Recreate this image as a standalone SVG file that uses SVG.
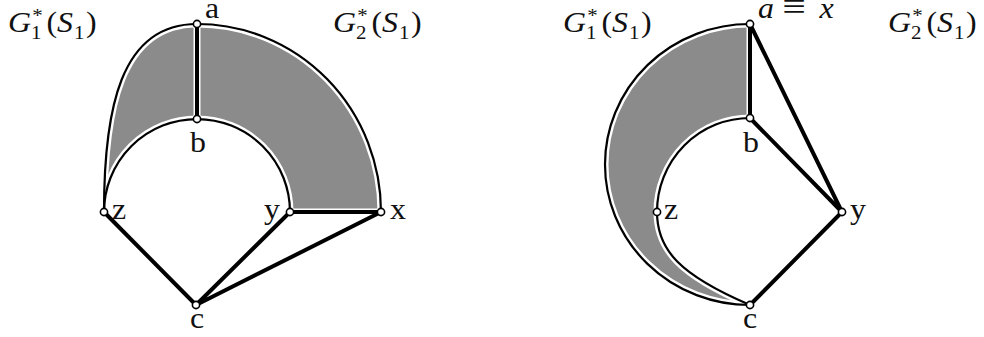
<svg xmlns="http://www.w3.org/2000/svg" width="984" height="337" viewBox="0 0 984 337">
<style>
.shade{fill:#8b8b8b;stroke:none}
.halo{fill:none;stroke:#fff;stroke-width:7;stroke-linecap:round}
.thin{fill:none;stroke:#000;stroke-width:2.2}
.thick{fill:none;stroke:#000;stroke-width:4;stroke-linecap:round}
.node{fill:#fff;stroke:#000;stroke-width:1.6}
text{font-family:"Liberation Serif","Times New Roman",serif;font-size:29px;fill:#111}
.it{font-style:italic}
.sm{font-size:19px}
.eq{font-size:38px}
</style>
<rect width="984" height="337" fill="#fff"/>
<g id="regions">
<path class="shade" d="M104,212 C104,110 120,24 197,24 A184,188 0 0 1 381,212 L290,212 A93,93 0 0 0 104,212 Z"/>
<path class="shade" d="M750,24 A145,140.5 0 0 0 750,305 C680,275 657,250 657,212 A93,94 0 0 1 750,118 Z"/>
</g>
<g id="connectors">
<path class="halo" d="M104,212 C104,110 120,24 197,24 A184,188 0 0 1 381,212"/>
<path class="halo" d="M104,212 A93,93 0 0 1 290,212"/>
<path class="halo" d="M197,24 L197,119 M290,212 L381,212"/>
<path class="thin" d="M104,212 C104,110 120,24 197,24 A184,188 0 0 1 381,212"/>
<path class="thin" d="M104,212 A93,93 0 0 1 290,212"/>
<path class="thick" d="M197,24 L197,119"/>
<path class="thick" d="M290,212 L381,212"/>
<path class="thick" d="M104,212 L196,305 M290,212 L196,305 M381,212 L196,305"/>
<path class="halo" d="M750,24 A145,140.5 0 0 0 750,305"/>
<path class="halo" d="M750,305 C680,275 657,250 657,212 A93,94 0 0 1 750,118 L750,24"/>
<path class="thin" d="M750,24 A145,140.5 0 0 0 750,305"/>
<path class="thin" d="M750,305 C680,275 657,250 657,212 A93,94 0 0 1 750,118"/>
<path class="thick" d="M750,24 L750,118"/>
<path class="thick" d="M750,24 L842,212 M750,118 L842,212 M842,212 L750,305"/>
</g>
<g id="left-a"><circle class="node" cx="197" cy="24" r="3.6"/><text transform="translate(205,18) scale(1.1,1)">a</text></g>
<g id="left-b"><circle class="node" cx="197" cy="119" r="3.6"/><text transform="translate(190,152) scale(1.1,1)">b</text></g>
<g id="left-z"><circle class="node" cx="104" cy="212" r="3.6"/><text transform="translate(112,219) scale(1.1,1)">z</text></g>
<g id="left-y"><circle class="node" cx="290" cy="212" r="3.6"/><text transform="translate(264,219) scale(1.1,1)">y</text></g>
<g id="left-x"><circle class="node" cx="381" cy="212" r="3.6"/><text transform="translate(390,219) scale(1.1,1)">x</text></g>
<g id="left-c"><circle class="node" cx="196" cy="305" r="3.6"/><text transform="translate(190,328) scale(1.1,1)">c</text></g>
<g id="right-a"><circle class="node" cx="750" cy="24" r="3.6"/><text transform="translate(758,18) scale(1.1,1)"><tspan class="it">a</tspan><tspan class="eq" x="22" y="1">≡</tspan><tspan class="it" x="56" y="0">x</tspan></text></g>
<g id="right-b"><circle class="node" cx="750" cy="118" r="3.6"/><text transform="translate(743,152) scale(1.1,1)">b</text></g>
<g id="right-z"><circle class="node" cx="657" cy="212" r="3.6"/><text transform="translate(664,219) scale(1.1,1)">z</text></g>
<g id="right-y"><circle class="node" cx="842" cy="212" r="3.6"/><text transform="translate(850,219) scale(1.1,1)">y</text></g>
<g id="right-c"><circle class="node" cx="750" cy="305" r="3.6"/><text transform="translate(743,328) scale(1.1,1)">c</text></g>
<g id="label-left-G1"><text transform="translate(8,32) scale(1.1,1)"><tspan class="it">G</tspan><tspan class="sm" x="22" y="-10">*</tspan><tspan class="sm" x="21" y="7">1</tspan><tspan x="35" y="0">(</tspan><tspan class="it">S</tspan><tspan class="sm" x="60" y="7">1</tspan><tspan x="71" y="0">)</tspan></text></g>
<g id="label-left-G2"><text transform="translate(333,32) scale(1.1,1)"><tspan class="it">G</tspan><tspan class="sm" x="22" y="-10">*</tspan><tspan class="sm" x="21" y="7">2</tspan><tspan x="35" y="0">(</tspan><tspan class="it">S</tspan><tspan class="sm" x="60" y="7">1</tspan><tspan x="71" y="0">)</tspan></text></g>
<g id="label-right-G1"><text transform="translate(563,32) scale(1.1,1)"><tspan class="it">G</tspan><tspan class="sm" x="22" y="-10">*</tspan><tspan class="sm" x="21" y="7">1</tspan><tspan x="35" y="0">(</tspan><tspan class="it">S</tspan><tspan class="sm" x="60" y="7">1</tspan><tspan x="71" y="0">)</tspan></text></g>
<g id="label-right-G2"><text transform="translate(888,32) scale(1.1,1)"><tspan class="it">G</tspan><tspan class="sm" x="22" y="-10">*</tspan><tspan class="sm" x="21" y="7">2</tspan><tspan x="35" y="0">(</tspan><tspan class="it">S</tspan><tspan class="sm" x="60" y="7">1</tspan><tspan x="71" y="0">)</tspan></text></g>
</svg>
